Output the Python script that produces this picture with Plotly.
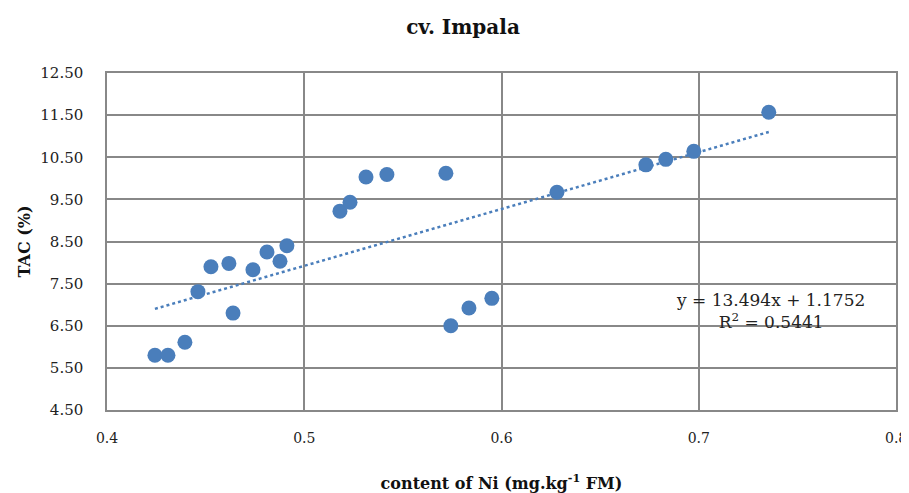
import plotly.graph_objects as go

ni_content = [0.4243, 0.4309, 0.4395, 0.4461, 0.4527, 0.4618, 0.4639, 0.4740, 0.4811,
              0.4877, 0.4912, 0.5181, 0.5232, 0.5313, 0.5419, 0.5718, 0.5743, 0.5835,
              0.5951, 0.6281, 0.6732, 0.6833, 0.6975, 0.7355]
tac_pct = [5.80, 5.80, 6.11, 7.31, 7.90, 7.98, 6.80, 7.83, 8.25,
           8.03, 8.40, 9.22, 9.43, 10.03, 10.09, 10.12, 6.50, 6.92,
           7.15, 9.67, 10.32, 10.45, 10.64, 11.57]
slope = 13.494
intercept = 1.1752
r_squared = 0.5441
x_ticks = [0.4, 0.5, 0.6, 0.7, 0.8]
y_ticks = [4.5, 5.5, 6.5, 7.5, 8.5, 9.5, 10.5, 11.5, 12.5]

blue = "#4a7ebb"
grid = "#888888"
font_fam = "DejaVu Serif"

fig = go.Figure()
trend_x = [min(ni_content), max(ni_content)]
trend_y = [slope * v + intercept for v in trend_x]
fig.add_trace(go.Scatter(x=trend_x, y=trend_y, mode="lines",
                         line=dict(color=blue, width=2.5, dash="dot"),
                         showlegend=False, hoverinfo="skip"))
fig.add_trace(go.Scatter(x=ni_content, y=tac_pct, mode="markers",
                         marker=dict(color=blue, size=15),
                         showlegend=False))

fig.add_annotation(x=0.7365, y=6.86, xref="x", yref="y",
                   text=f"y = {slope}x + {intercept}<br>R<sup>2</sup> = {r_squared}",
                   showarrow=False, align="center",
                   font=dict(family=font_fam, size=17, color="#222222"))

# plotly hides a tick label that overflows the page edge, so the last
# x label is drawn as an annotation placed at that tick value
x_ticktext = [f"{v:.1f}" for v in x_ticks]
last_label = x_ticktext[-1]
x_ticktext[-1] = ""
fig.add_annotation(x=x_ticks[-1], y=0, xref="x", yref="paper",
                   text=last_label, showarrow=False, xanchor="center",
                   yanchor="middle", yshift=-28,
                   font=dict(family=font_fam, size=14, color="#222222"))

# page body has an 8px margin, so the figure is sized/offset to compensate
fig.update_layout(
    width=901, height=485,
    margin=dict(l=99, r=13, t=65, b=83),
    paper_bgcolor="white", plot_bgcolor="white",
    title=dict(text="<b>cv. Impala</b>", x=0.505, xanchor="center",
               y=1 - 19 / 485, yanchor="middle",
               font=dict(family=font_fam, size=20, color="#111111")),
    font=dict(family=font_fam, color="#222222"),
)
fig.update_xaxes(range=[0.4, 0.8], tickvals=x_ticks, ticktext=x_ticktext,
                 showgrid=True, gridcolor=grid, gridwidth=1.5,
                 showline=True, linecolor=grid, linewidth=1.5, mirror=True,
                 zeroline=False, ticklabelstandoff=14, automargin=False,
                 tickfont=dict(family=font_fam, size=14, color="#222222"),
                 title=dict(text="<b>content of Ni (mg.kg<sup>-1</sup> FM)</b>", standoff=34,
                            font=dict(family=font_fam, size=16, color="#111111")))
fig.update_yaxes(range=[4.5, 12.5], tickvals=y_ticks, ticktext=[f"{v:.2f}" for v in y_ticks],
                 showgrid=True, gridcolor=grid, gridwidth=1.5,
                 showline=True, linecolor=grid, linewidth=1.5, mirror=True,
                 zeroline=False, ticklabelstandoff=19, automargin=False,
                 tickfont=dict(family=font_fam, size=15, color="#222222"),
                 title=dict(text="<b>TAC (%)</b>", standoff=6,
                            font=dict(family=font_fam, size=16, color="#111111")))

fig.write_html("out.html")
